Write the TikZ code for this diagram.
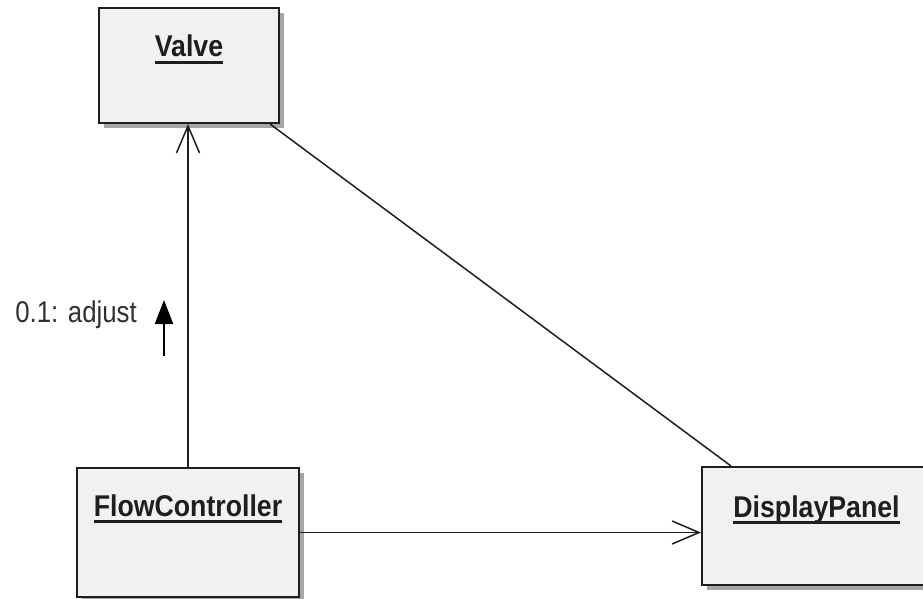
\documentclass[tikz,border=0pt]{standalone}
\usepackage{fontspec}
\setmainfont{Liberation Sans}
\newfontfamily\titlefont[FakeStretch=0.89]{Liberation Sans}
\newfontfamily\msgfont[FakeStretch=0.86]{Liberation Sans}
\usetikzlibrary{arrows.meta,shadows,calc}
\definecolor{boxfill}{HTML}{F1F1F1}
\definecolor{boxline}{HTML}{1E1E1E}
\definecolor{shadowgray}{HTML}{A6A6A6}
\definecolor{msgtext}{HTML}{303030}
\tikzset{
  objbox/.style={draw=boxline, line width=2pt, fill=boxfill, inner sep=0pt,
    drop shadow={shadow xshift=5pt, shadow yshift=-5pt, fill=shadowgray, opacity=1}},
  objname/.style={anchor=base, inner sep=0pt, text=boxline,
    font=\titlefont\bfseries\fontsize{30pt}{36pt}\selectfont},
  nameline/.style={draw=boxline, line width=2.5pt},
  link/.style={draw=boxline, line width=1.5pt},
  navarrow/.style={link, -{Straight Barb[length=27pt, width=23pt, line width=1.5pt]}},
  msglabel/.style={anchor=base east, inner sep=0pt, text=msgtext,
    font=\msgfont\fontsize{30pt}{36pt}\selectfont},
  msgarrow/.style={draw=black, line width=2pt, -{Triangle[length=24pt, width=18pt]}}
}
\begin{document}
\begin{tikzpicture}[x=1pt, y=-1pt]
  \useasboundingbox (0,0) rectangle (923,599);

  % object boxes
  \node[objbox, minimum width=180pt, minimum height=115pt] (valve) at (189,65.5) {};
  \node[objbox, minimum width=222pt, minimum height=129pt] (flow) at (188,532.5) {};
  \node[objbox, minimum width=229pt, minimum height=118pt] (panel) at (816.5,526) {};

  % object names, underlined
  \node[objname] (valvename) at ($(valve.north)+(0,50)$) {Valve};
  \node[objname] (flowname) at ($(flow.north)+(0,49)$) {FlowController};
  \node[objname] (panelname) at ($(panel.north)+(0,51)$) {DisplayPanel};
  \foreach \n in {valvename, flowname, panelname}
    \draw[nameline] ([yshift=-5.5pt]\n.base west) -- ([yshift=-5.5pt]\n.base east);

  % links between objects
  \draw[navarrow] (flow.north) -- (flow.north |- valve.south);
  \draw[link] ([xshift=-10pt]valve.south east) -- ([xshift=30pt]panel.north west);
  \draw[navarrow] (flow.east) -- (flow.east -| panel.west);

  % message on the link
  \coordinate (msgtail) at (164,356);
  \coordinate (msgtip) at (164,300);
  \draw[msgarrow] (msgtail) -- (msgtip);
  \node[msglabel] (msg) at (137,322) {0.1: adjust};
\end{tikzpicture}
\end{document}
